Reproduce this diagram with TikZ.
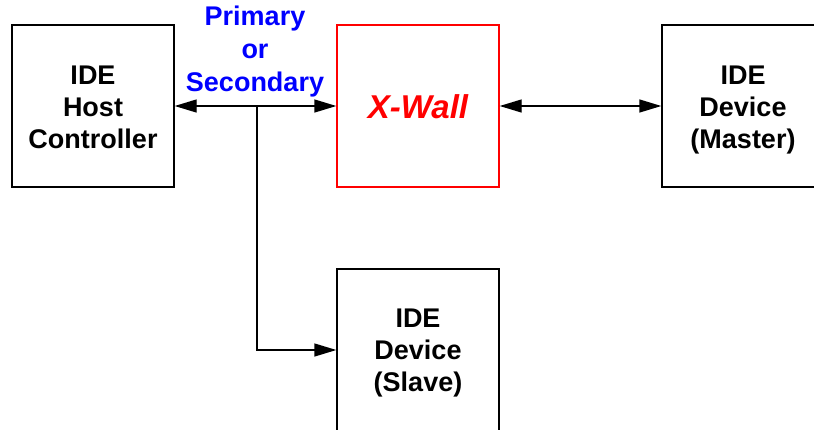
\documentclass[tikz,border=0pt]{standalone}
\usepackage{fontspec}
\setmainfont{Liberation Sans}
\usetikzlibrary{arrows.meta}
\begin{document}
\begin{tikzpicture}[x=1pt,y=-1pt,
  box/.style={draw=black,line width=1.4pt,minimum width=162pt,minimum height=162pt,inner sep=0pt},
  lab/.style={align=center,font=\fontsize{27}{32}\selectfont\bfseries},
  conn/.style={line width=1.4pt,-{Triangle[length=22pt,width=13pt]}},
  bconn/.style={line width=1.4pt,{Triangle[length=22pt,width=13pt]}-{Triangle[length=22pt,width=13pt]}}]
\clip (0,0) rectangle (814,429);
\fill[white] (0,0) rectangle (814,429);
\node[box] (host) at (93,106) {};
\node[lab] (hostt) at (93,107) {IDE\\Host\\Controller};
\node[box,draw=red] (xw) at (418,106) {};
\node[text=red,font=\fontsize{33}{36}\selectfont\bfseries\itshape] (xwt) at (418,107) {X-Wall};
\node[box] (master) at (743,106) {};
\node[lab] (mastert) at (743,110) {IDE\\Device\\(Master)};
\node[box] (slave) at (418,350) {};
\node[lab] (slavet) at (418,353) {IDE\\Device\\(Slave)};
\node[text=blue,align=center,font=\fontsize{27}{33}\selectfont\bfseries] (lbl) at (255,52) {Primary\\or\\Secondary};
\draw[bconn] (host.east) -- (xw.west);
\draw[bconn] (xw.east) -- (master.west);
\coordinate (j) at (257,106);
\draw[conn] (j) |- (slave.west);
\end{tikzpicture}
\end{document}
